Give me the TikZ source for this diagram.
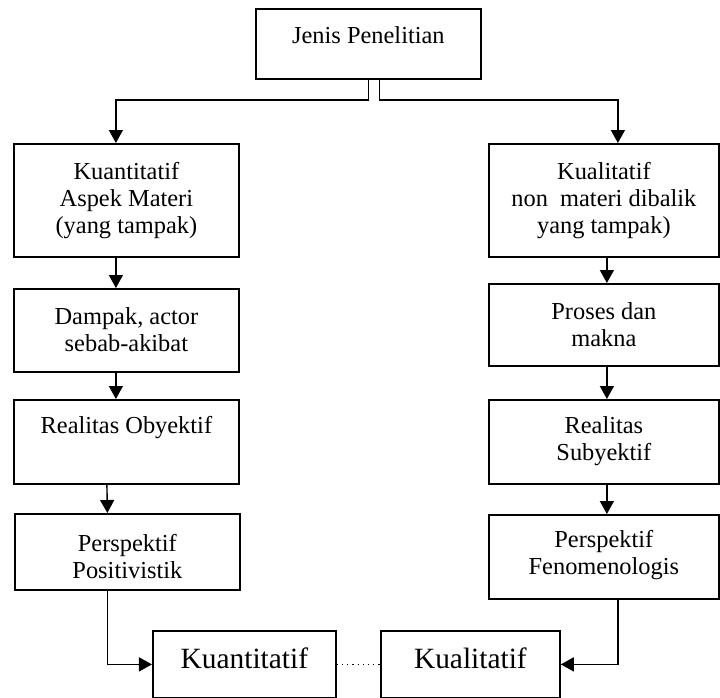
\documentclass[tikz,border=0pt]{standalone}
\usepackage{fontspec}
\setmainfont{Liberation Serif}
\usetikzlibrary{arrows.meta}

\newcommand{\boxtext}[4]{\parbox[c][#2][t]{#1}{\centering\rule{0pt}{#3}#4}}

\begin{document}
\begin{tikzpicture}[x=0.5pt,y=-0.5pt]
\tikzstyle{kotak}=[draw, line width=0.9pt, inner sep=0pt, anchor=north west, font=\fontsize{12.2}{13.5}\selectfont]
\tikzstyle{kotakbesar}=[kotak, font=\fontsize{14.7}{16}\selectfont]
\tikzstyle{panah}=[line width=0.7pt, -{Triangle[length=6.5pt,width=7pt]}]

\useasboundingbox (0,0) rectangle (720,698);

\node[kotak] (jenis) at (255,8) {\boxtext{112.5pt}{35pt}{17.5pt}{Jenis Penelitian}};

\node[kotak] (kuan1) at (13,143) {\boxtext{112.5pt}{56.5pt}{18pt}{Kuantitatif\\Aspek Materi\\(yang tampak)}};
\node[kotak] (kuan2) at (13,288) {\boxtext{112.5pt}{41.5pt}{18pt}{Dampak, actor\\sebab-akibat}};
\node[kotak] (kuan3) at (13,399) {\boxtext{112.5pt}{42pt}{17pt}{Realitas Obyektif}};
\node[kotak] (kuan4) at (14,513) {\boxtext{112.5pt}{38pt}{19pt}{Perspektif\\Positivistik}};

\node[kotak] (kual1) at (488,143) {\boxtext{115pt}{56.5pt}{18pt}{Kualitatif\\non\ \ materi dibalik\\yang tampak)}};
\node[kotak] (kual2) at (488,283) {\boxtext{115pt}{41pt}{18pt}{Proses dan\\makna}};
\node[kotak] (kual3) at (488,399) {\boxtext{115pt}{42pt}{17pt}{Realitas\\Subyektif}};
\node[kotak] (kual4) at (488,514) {\boxtext{115pt}{42pt}{16.5pt}{Perspektif\\Fenomenologis}};

\node[kotakbesar] (hasilkuan) at (152,630) {\boxtext{91.5pt}{33.5pt}{19pt}{Kuantitatif}};
\node[kotakbesar] (hasilkual) at (380,630) {\boxtext{89.5pt}{33.5pt}{19pt}{Kualitatif}};

\draw[panah] (jenis.south) -- ++(0,20) -| ([xshift=-5.25pt]kuan1.north);
\draw[panah] ([xshift=5.5pt]jenis.south) -- ++(0,20) -| ([xshift=7pt]kual1.north);

\draw[panah] ([xshift=-5.25pt]kuan1.south) -- ([xshift=-5.25pt]kuan2.north);
\draw[panah] ([xshift=-5.25pt]kuan2.south) -- ([xshift=-5.25pt]kuan3.north);
\draw[panah] ([xshift=-9.75pt]kuan3.south) -- ([xshift=-10pt]kuan4.north);

\draw[panah] ([xshift=1.5pt]kual1.south) -- ([xshift=1.5pt]kual2.north);
\draw[panah] ([xshift=1.5pt]kual2.south) -- ([xshift=1.5pt]kual3.north);
\draw[panah] ([xshift=1.5pt]kual3.south) -- ([xshift=1.5pt]kual4.north);

\draw[panah] ([xshift=-10pt]kuan4.south) |- (hasilkuan.west);
\draw[panah] ([xshift=7pt]kual4.south) |- (hasilkual.east);
\draw[dotted, line width=0.6pt] (hasilkuan.east) -- (hasilkual.west);

\end{tikzpicture}
\end{document}
